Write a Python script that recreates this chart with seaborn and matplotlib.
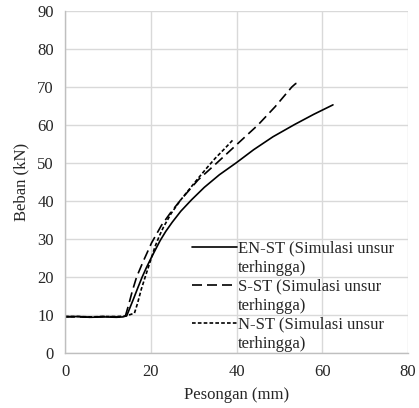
import pandas as pd
import matplotlib
matplotlib.use("Agg")
import matplotlib.pyplot as plt
from matplotlib.lines import Line2D
import seaborn as sns

# EN-ST (solid)
en_x = [0, 3, 6, 9, 12, 13.5, 14.4, 15, 16, 17, 18, 19, 20, 21, 22.2, 23.5, 25, 27,
        29.5, 32.5, 36, 40, 44, 48.5, 53.5, 58, 62.5]
en_y = [9.5, 9.6, 9.4, 9.5, 9.4, 9.5, 9.8, 11.5, 14.3, 17.2, 20, 22.5, 24.8, 27, 29.6,
        32, 34.4, 37.3, 40.3, 43.6, 46.9, 50.1, 53.5, 56.9, 60.1, 62.8, 65.3]
# S-ST (long dash)
s_x = [0, 3, 6, 9, 12, 13.5, 14.1, 14.8, 15.7, 16.7, 18.2, 20.2, 22.5, 24.8, 27, 31,
       35.4, 40, 45, 49, 52.9, 53.8, 54.6]
s_y = [9.6, 9.5, 9.4, 9.6, 9.5, 9.5, 9.8, 12.5, 16.3, 20, 24, 29, 33.6, 37.2, 40.3, 45.5,
       50, 54.8, 60, 64.8, 70, 70.9, 71.1]
# N-ST (short dash)
n_x = [0, 3, 6, 9, 12, 14, 15.2, 16.2, 16.9, 17.8, 18.7, 20, 21, 22, 23, 24.8, 27, 29,
       31, 33, 35, 37, 39.1]
n_y = [9.6, 9.6, 9.5, 9.6, 9.6, 9.7, 10.1, 10.5, 13, 16.8, 20, 24.5, 28, 30.8, 33.2,
       36.8, 40.3, 43.1, 45.9, 48.6, 51.2, 53.5, 56]

names = ["EN-ST (Simulasi unsur", "S-ST (Simulasi unsur", "N-ST (Simulasi unsur"]
wrap = "terhingga)"

df = pd.concat([
    pd.DataFrame({"x": en_x, "y": en_y, "seri": names[0]}),
    pd.DataFrame({"x": s_x, "y": s_y, "seri": names[1]}),
    pd.DataFrame({"x": n_x, "y": n_y, "seri": names[2]}),
])

sns.set_style("whitegrid", {"grid.color": "#d9d9d9", "axes.edgecolor": "#bfbfbf"})
plt.rcParams["font.family"] = ["Liberation Serif", "DejaVu Serif"]
fs = 12
txt = "#262626"

fig = plt.figure(figsize=(4.19, 4.08), dpi=100)
ax = fig.add_axes([65 / 419, 1 - 353 / 408, 343 / 419, 342 / 408])

sns.lineplot(data=df, x="x", y="y", hue="seri", style="seri",
             palette=["black"] * 3,
             dashes=[(None, None), (6, 3), (2.2, 1.3)],
             sort=False, estimator=None, linewidth=1.2, ax=ax)

ax.set_xlim(0, 80)
ax.set_ylim(0, 90)
ax.set_xticks(range(0, 81, 20))
ax.set_yticks(range(0, 91, 10))
ax.grid(True, color="#d9d9d9", linewidth=1)
for s in ["top", "right"]:
    ax.spines[s].set_visible(False)
for s in ["left", "bottom"]:
    ax.spines[s].set_color("#bfbfbf")
    ax.spines[s].set_linewidth(1)
ax.tick_params(length=0, labelsize=fs, labelcolor=txt, pad=8)
ax.set_xlabel("Pesongan (mm)", fontsize=fs, labelpad=5, color=txt)
ax.set_ylabel("Beban (kN)", fontsize=fs, labelpad=6, color=txt)

h, l = ax.get_legend_handles_labels()
blank = Line2D([], [], linestyle="none")
handles, labs = [], []
for hh, ll in zip(h, l):
    handles += [hh, blank]
    labs += [ll, wrap]
ax.legend(handles, labs, loc="lower left", bbox_to_anchor=(0.37, 0.004), frameon=False,
          handlelength=2.7, handletextpad=0.08, labelspacing=0.18,
          borderpad=0, borderaxespad=0, fontsize=fs, labelcolor=txt)

fig.savefig("out.png", dpi=100)
